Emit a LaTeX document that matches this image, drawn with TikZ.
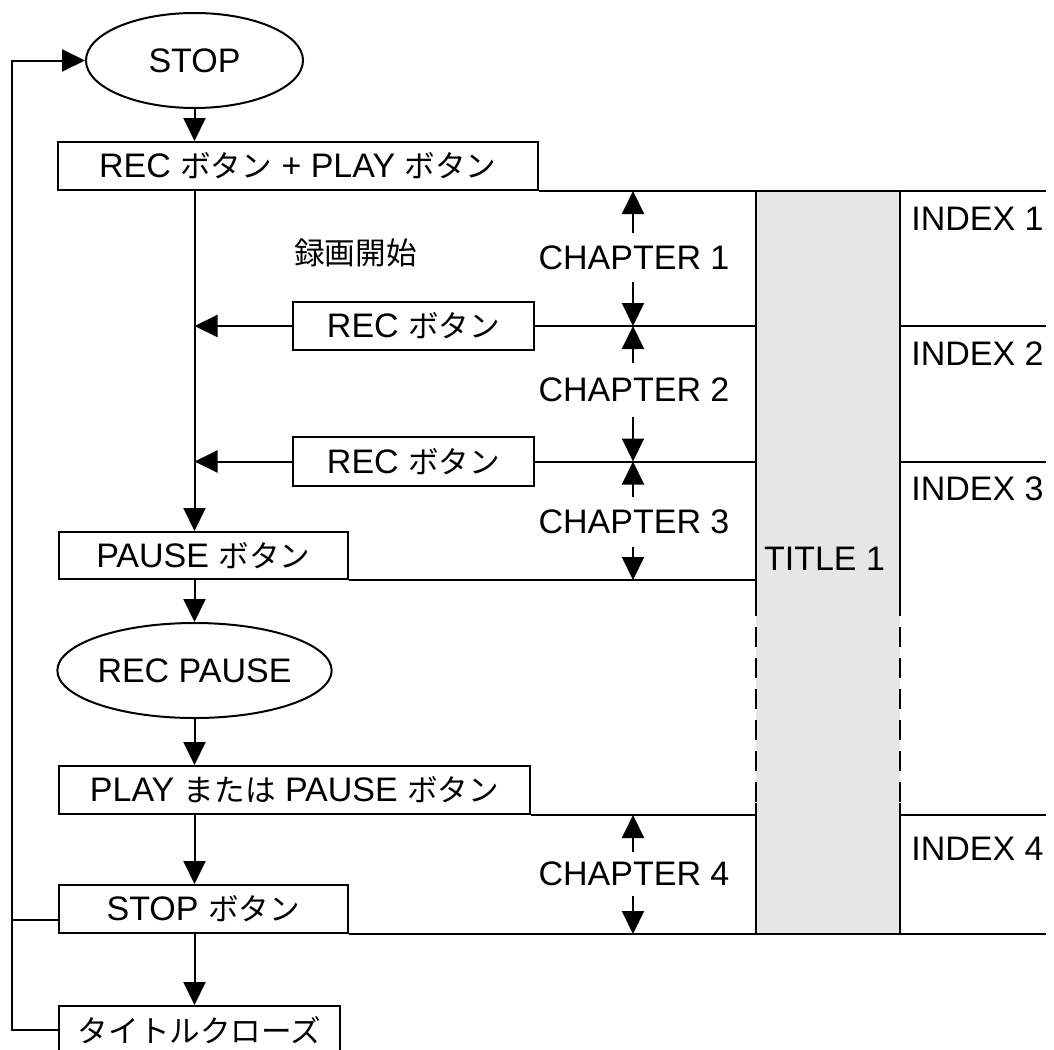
\documentclass[tikz,border=0pt]{standalone}
\usepackage{fontspec}
\setmainfont{Liberation Sans}
\newfontfamily\jpf{Noto Sans CJK JP}[Scale=0.9]
\usetikzlibrary{arrows.meta,shapes.geometric,calc}
\definecolor{titlegray}{RGB}{230,230,230}
\begin{document}
\begin{tikzpicture}[x=0.5pt,y=-0.5pt,
  every node/.style={font=\fontsize{17}{20}\selectfont, inner sep=0pt},
  line/.style={line width=1pt},
  box/.style={draw, line width=1pt, rectangle},
  term/.style={draw, line width=1pt, ellipse, minimum width=108.5pt, minimum height=47.5pt},
  arr/.style={line width=1pt, -{Triangle[length=11.5pt,width=11pt]}},
  dashedge/.style={line width=1pt, dash pattern=on 10pt off 5.5pt},
]
\useasboundingbox (0,0) rectangle (1054,1049);
\clip (0,0) rectangle (1054,1049);

% helper coordinates
\coordinate (L) at (12,0);
\coordinate (RE) at (1046,0);
\coordinate (CX) at (633,0);
\coordinate (d1) at (0,596);
\coordinate (d2) at (0,803);

% title band
\node[fill=titlegray, minimum width=72pt, minimum height=371.5pt] (T) at (828,561.5) {};
\node (Tt) at (824.5,559) {TITLE 1};

% flow nodes
\node[term] (STOP) at (194.5,60.5) {STOP};
\node[box, minimum width=239.75pt, minimum height=24pt] (B1) at (297.75,166) {REC {\jpf ボタン} + PLAY {\jpf ボタン}};
\node[box, minimum width=120.5pt, minimum height=24pt] (R1) at (413.5,326) {REC {\jpf ボタン}};
\node[box, minimum width=120.5pt, minimum height=24.5pt] (R2) at (413.5,461.5) {REC {\jpf ボタン}};
\node[box, minimum width=144.25pt, minimum height=23.5pt] (PA) at (203.25,555.5) {PAUSE {\jpf ボタン}};
\node[term] (RP) at (194.5,670.5) {REC PAUSE};
\node[box, minimum width=235.5pt, minimum height=24pt] (PL) at (294.5,790) {PLAY {\jpf または} PAUSE {\jpf ボタン}};
\node[box, minimum width=144.25pt, minimum height=24pt] (SB) at (203.25,909) {STOP {\jpf ボタン}};
\node[box, minimum width=140.5pt, minimum height=24pt] (TC) at (199.5,1030) {{\jpf タイトルクローズ}};
\node (RK) at (355.5,252.5) {{\jpf 録画開始}};

% flow arrows
\draw[arr] (STOP.south) -- (STOP.south |- B1.north);
\draw[arr] (STOP.south |- B1.south) -- (STOP.south |- PA.north);
\draw[arr] (R1.west) -- (R1.west -| STOP.south);
\draw[arr] (R2.west) -- (R2.west -| STOP.south);
\draw[arr] (STOP.south |- PA.south) -- (RP.north);
\draw[arr] (RP.south) -- (RP.south |- PL.north);
\draw[arr] (RP.south |- PL.south) -- (RP.south |- SB.north);
\draw[arr] (RP.south |- SB.south) -- (RP.south |- TC.north);
\draw[arr] (TC.west) -- (L |- TC.west) -- (L |- STOP.west) -- (STOP.west);
\draw[line] ([yshift=-5.5pt]SB.west) -- ([yshift=-5.5pt]SB.west -| L);

% chapter boundary lines
\draw[line] (B1.south east) -- (B1.south east -| RE);
\draw[line] (R1.east) -- (R1.east -| T.west) (R1.east -| T.east) -- (R1.east -| RE);
\draw[line] (R2.east) -- (R2.east -| T.west) (R2.east -| T.east) -- (R2.east -| RE);
\draw[line] (PA.south east) -- (PA.south east -| T.west);
\draw[line] (PL.south east) -- (PL.south east -| T.west) (PL.south east -| T.east) -- (PL.south east -| RE);
\draw[line] (SB.south east) -- (SB.south east -| RE);

% title edges
\draw[line] (T.north west) -- (T.west |- d1);
\draw[dashedge] (T.west |- d1) -- (T.west |- d2);
\draw[line] (T.west |- d2) -- (T.south west);
\draw[line] (T.north east) -- (T.east |- d1);
\draw[dashedge] (T.east |- d1) -- (T.east |- d2);
\draw[line] (T.east |- d2) -- (T.south east);

% chapters
\node[minimum height=24.5pt] (C1) at (634,257.5) {CHAPTER 1};
\draw[arr] (C1.north -| CX) -- (B1.south -| CX);
\draw[arr] (C1.south -| CX) -- (R1.east -| CX);
\node[minimum height=27pt] (C2) at (634,390) {CHAPTER 2};
\draw[arr] (C2.north -| CX) -- (R1.east -| CX);
\draw[arr] (C2.south -| CX) -- (R2.east -| CX);
\node[minimum height=25pt] (C3) at (634,522) {CHAPTER 3};
\draw[arr] (C3.north -| CX) -- (R2.east -| CX);
\draw[arr] (C3.south -| CX) -- (PA.south -| CX);
\node[minimum height=22pt] (C4) at (634,874) {CHAPTER 4};
\draw[arr] (C4.north -| CX) -- (PL.south -| CX);
\draw[arr] (C4.south -| CX) -- (SB.south -| CX);

% indexes
\node[anchor=west] (I1) at (911,219) {INDEX 1};
\node[anchor=west] (I2) at (911,354) {INDEX 2};
\node[anchor=west] (I3) at (911,489) {INDEX 3};
\node[anchor=west] (I4) at (911,849) {INDEX 4};
\end{tikzpicture}
\end{document}
